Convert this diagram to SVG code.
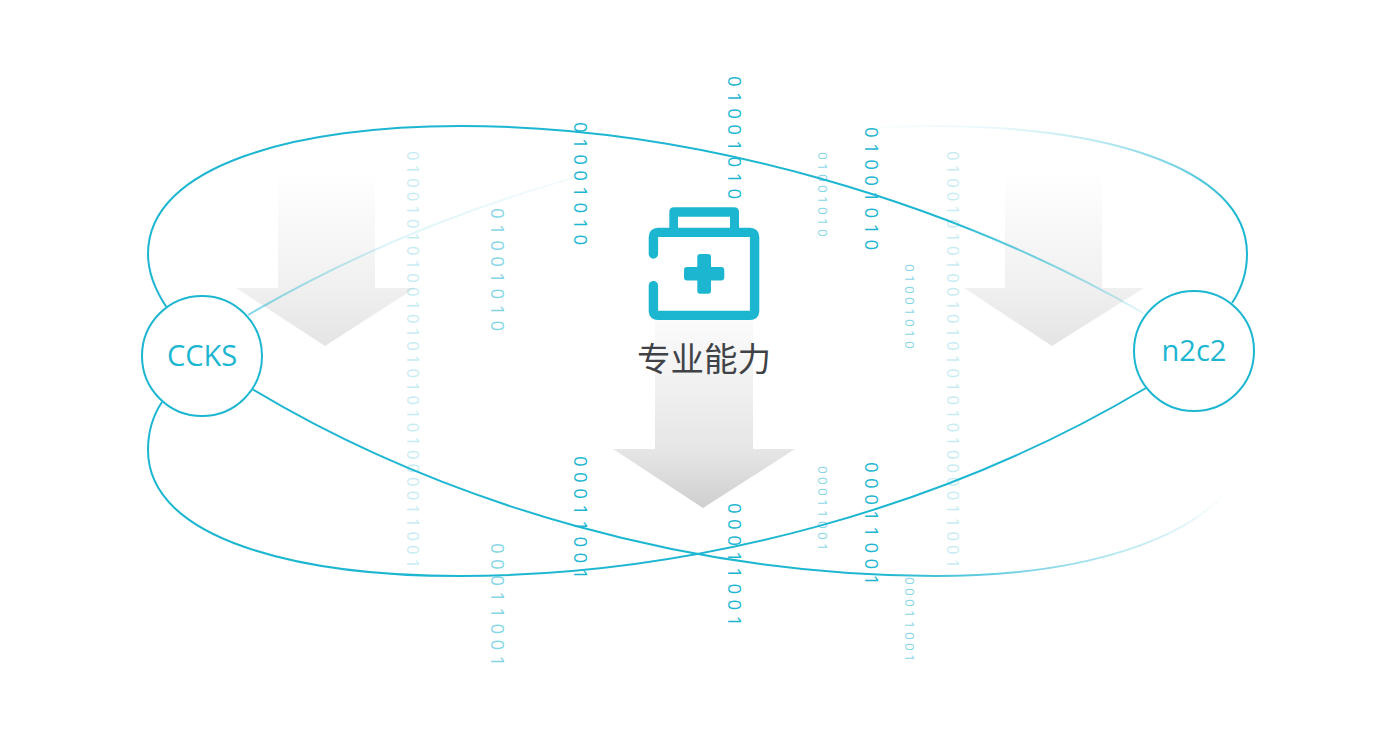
<svg xmlns="http://www.w3.org/2000/svg" width="1380" height="748" viewBox="0 0 1380 748">
<style>
.b{font-family:"Open Sans","Liberation Sans",sans-serif;fill:#1db6d1}
.l{font-size:18px;letter-spacing:5.03px}
.m{font-size:16px;letter-spacing:3.8px;opacity:.25}
.s{font-size:13px;letter-spacing:3.04px;opacity:.55}
.h{opacity:.55}
.c{fill:none;stroke-width:2}
.n{fill:#fff;stroke:#1db6d1;stroke-width:2}
.t{font-family:"Open Sans","Liberation Sans",sans-serif;font-size:29px;fill:#1db6d1;text-anchor:middle}
</style>
<defs>
<linearGradient id="a1" gradientUnits="userSpaceOnUse" x1="0" y1="170" x2="0" y2="346"><stop offset="0" stop-color="#fff"/><stop offset=".67" stop-color="#f0f0f0"/><stop offset="1" stop-color="#e4e4e4"/></linearGradient>
<linearGradient id="a2" gradientUnits="userSpaceOnUse" x1="0" y1="320" x2="0" y2="508"><stop offset="0" stop-color="#fbfbfb"/><stop offset=".686" stop-color="#e6e6e6"/><stop offset="1" stop-color="#cfcfcf"/></linearGradient>
<linearGradient id="g1" gradientUnits="userSpaceOnUse" x1="148" y1="0" x2="1147" y2="0"><stop offset="0.8" stop-color="#1db6d1"/><stop offset="1" stop-color="#1db6d1" stop-opacity=".12"/></linearGradient>
<linearGradient id="g2" gradientUnits="userSpaceOnUse" x1="248" y1="0" x2="1247" y2="0"><stop offset="0" stop-color="#1db6d1" stop-opacity=".55"/><stop offset="0.052" stop-color="#1db6d1" stop-opacity=".4"/><stop offset="0.14" stop-color="#1db6d1" stop-opacity=".15"/><stop offset="0.325" stop-color="#1db6d1" stop-opacity=".05"/><stop offset="0.33" stop-color="#1db6d1" stop-opacity="0"/><stop offset="0.6" stop-color="#1db6d1" stop-opacity="0"/><stop offset="0.75" stop-color="#1db6d1" stop-opacity=".1"/><stop offset="0.85" stop-color="#1db6d1" stop-opacity=".3"/><stop offset="0.93" stop-color="#1db6d1" stop-opacity=".6"/><stop offset="0.99" stop-color="#1db6d1"/></linearGradient>
<linearGradient id="g4" gradientUnits="userSpaceOnUse" x1="252" y1="0" x2="1228" y2="0"><stop offset="0.64" stop-color="#1db6d1"/><stop offset="1" stop-color="#1db6d1" stop-opacity="0"/></linearGradient>
</defs>
<g id="arrows">
<polygon fill="url(#a1)" points="278,170 375,170 375,288 415,288 325,346 236,288 278,288"/>
<polygon fill="url(#a1)" points="1005,170 1102,170 1102,288 1144,288 1052,346 964,288 1005,288"/>
<polygon fill="url(#a2)" points="655,320 753,320 753,449 795,449 703,508 613,449 655,449"/>
</g>
<g id="binary">
<text class="b l" transform="translate(574,122) rotate(90) scale(1.05 1)">01001010</text>
<text class="b l" transform="translate(574,456) rotate(90) scale(1.05 1)">00011001</text>
<text class="b l" transform="translate(728,76) rotate(90) scale(1.05 1)">01001010</text>
<text class="b l" transform="translate(728,503) rotate(90) scale(1.05 1)">00011001</text>
<text class="b l" transform="translate(865,127) rotate(90) scale(1.05 1)">01001010</text>
<text class="b l" transform="translate(865,462) rotate(90) scale(1.05 1)">00011001</text>
<text class="b l h" transform="translate(491,208) rotate(90) scale(1.05 1)">01001010</text>
<text class="b l h" transform="translate(491,543) rotate(90) scale(1.05 1)">00011001</text>
<text class="b s" transform="translate(818,152) rotate(90) scale(1.05 1)">01001010</text>
<text class="b s" transform="translate(818,466) rotate(90) scale(1.05 1)">00011001</text>
<text class="b s" transform="translate(905,264) rotate(90) scale(1.05 1)">01001010</text>
<text class="b s" transform="translate(905,577) rotate(90) scale(1.05 1)">00011001</text>
<text class="b m" transform="translate(947,151) rotate(90) scale(1.05 1)">0100101010010101010101000011001</text>
<text class="b m" transform="translate(407,151) rotate(90) scale(1.05 1)">0100101010010101010101000011001</text>
</g>
<g id="connectors">
<path class="c" stroke="url(#g1)" d="M167,308C155,290 148,272 148,254C148,164 300,126 460,126C700,126 955,204 1145,314"/>
<path class="c" stroke="url(#g2)" d="M1232,303C1242,288 1247,271 1247,254C1247,164 1095,126 935,126C695,126 445,200 248,315"/>
<path class="c" stroke="#1db6d1" d="M162,402C152,417 148,434 148,450C148,540 300,576 460,576C700,576 950,505 1146,388"/>
<path class="c" stroke="url(#g4)" d="M252,389C445,505 695,576 935,576C1095,576 1190,535 1228,490"/>
</g>
<g id="ccks">
<circle class="n" cx="202" cy="356" r="60"/>
<text class="t" x="202" y="366">CCKS</text>
</g>
<g id="n2c2">
<circle class="n" cx="1194" cy="351" r="60"/>
<text class="t" x="1194" y="361">n2c2</text>
</g>
<g id="center">
<path fill="none" stroke="#1db6d1" stroke-width="9.4" stroke-linecap="round" stroke-linejoin="round" d="M653.4,254V237Q653.4,232.4 658,232.4H750Q754.6,232.4 754.6,237V311Q754.6,315.4 750,315.4H658Q653.4,315.4 653.4,311V285.6"/>
<path fill="#1db6d1" d="M669.3,230V212Q669.3,207.3 674,207.3H734Q739,207.3 739,212V230H730V216.7H678V230Z"/>
<path fill="#1db6d1" d="M697.3,257Q697.3,254 700,254H708Q711,254 711,257V267H721Q724.3,267 724.3,270V277.5Q724.3,280.5 721,280.5H711V290.5Q711,293.7 708,293.7H700Q697.3,293.7 697.3,290.5V280.5H687Q684,280.5 684,277.5V270Q684,267 687,267H697.3Z"/>
<text x="704" y="371" font-size="33.5" text-anchor="middle" fill="#3f4246" font-family="'Noto Sans CJK SC','Noto Sans',sans-serif">专业能力</text>
</g>
</svg>
